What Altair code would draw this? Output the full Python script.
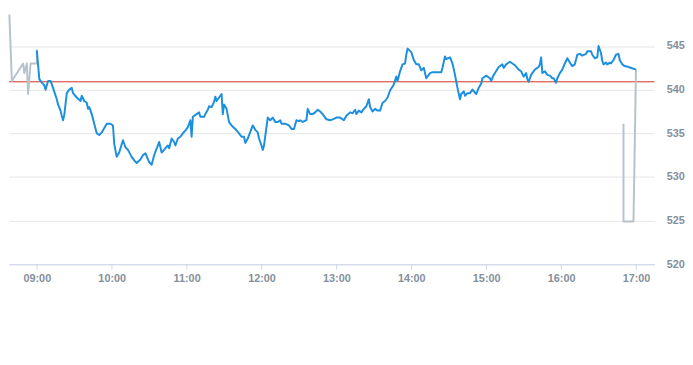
import altair as alt
import pandas as pd

# ---- data ----
pre_times = ["08:38", "08:40", "08:49", "08:50", "08:52", "08:53", "08:55", "09:00", "09:00"]
pre_values = [548.6, 541.0, 543.0, 541.9, 543.0, 539.5, 543.0, 543.0, 544.6]

main_times = [
    "09:00", "09:02", "09:04", "09:06", "09:07", "09:09", "09:11", "09:13", "09:16", "09:17",
    "09:19", "09:20", "09:21", "09:22", "09:24", "09:26", "09:28", "09:29", "09:32", "09:35",
    "09:36", "09:38", "09:40", "09:41", "09:42", "09:44", "09:46", "09:48", "09:50", "09:52",
    "09:56", "09:59", "10:01", "10:02", "10:04", "10:06", "10:09", "10:11", "10:13", "10:16",
    "10:18", "10:20", "10:23", "10:25", "10:27", "10:30", "10:32", "10:34", "10:38", "10:39",
    "10:40", "10:42", "10:43", "10:45", "10:46", "10:48", "10:50", "10:51", "10:53", "10:55",
    "10:57", "10:59", "11:01", "11:03", "11:04", "11:05", "11:08", "11:10", "11:11", "11:14",
    "11:15", "11:17", "11:18", "11:20", "11:22", "11:23", "11:24", "11:26", "11:28", "11:29",
    "11:30", "11:32", "11:34", "11:36", "11:39", "11:42", "11:44", "11:46", "11:47", "11:49",
    "11:53", "11:55", "11:57", "11:58", "12:00", "12:01", "12:02", "12:05", "12:07", "12:09",
    "12:11", "12:13", "12:15", "12:16", "12:19", "12:22", "12:24", "12:26", "12:28", "12:30",
    "12:31", "12:33", "12:36", "12:37", "12:39", "12:41", "12:43", "12:45", "12:47", "12:49",
    "12:52", "12:55", "12:57", "13:00", "13:03", "13:06", "13:08", "13:11", "13:13", "13:15",
    "13:16", "13:18", "13:20", "13:22", "13:24", "13:26", "13:27", "13:29", "13:31", "13:33",
    "13:35", "13:37", "13:39", "13:41", "13:43", "13:46", "13:48", "13:49", "13:51", "13:53",
    "13:55", "13:56", "13:57", "14:00", "14:02", "14:04", "14:06", "14:08", "14:10", "14:11",
    "14:12", "14:15", "14:17", "14:24", "14:25", "14:27", "14:28", "14:31", "14:33", "14:35",
    "14:37", "14:39", "14:40", "14:42", "14:43", "14:45", "14:47", "14:49", "14:52", "14:54",
    "14:56", "14:57", "15:00", "15:03", "15:04", "15:06", "15:07", "15:10", "15:13", "15:14",
    "15:16", "15:19", "15:21", "15:23", "15:26", "15:28", "15:30", "15:32", "15:33", "15:34",
    "15:36", "15:39", "15:42", "15:43", "15:44", "15:45", "15:47", "15:49", "15:51", "15:53",
    "15:54", "15:56", "15:57", "15:59", "16:01", "16:03", "16:05", "16:07", "16:09", "16:11",
    "16:13", "16:15", "16:17", "16:20", "16:21", "16:24", "16:25", "16:27", "16:29", "16:30",
    "16:32", "16:33", "16:34", "16:36", "16:37", "16:39", "16:40", "16:42", "16:44", "16:46",
    "16:47", "16:49", "16:51", "16:54", "17:00",
]
main_values = [
    544.5, 541.2, 540.8, 540.5, 540.0, 541.0, 541.0, 540.2, 538.9, 538.3,
    537.6, 537.0, 536.5, 537.1, 539.6, 540.0, 540.2, 539.6, 539.1, 538.7,
    539.3, 538.7, 538.5, 537.8, 538.0, 537.2, 536.1, 535.0, 534.8, 535.1,
    536.1, 536.1, 535.9, 533.8, 532.3, 532.8, 534.2, 533.4, 533.1, 532.3,
    531.9, 531.6, 532.0, 532.5, 532.7, 531.7, 531.4, 532.5, 534.0, 533.4,
    532.8, 533.1, 533.3, 533.6, 533.3, 534.4, 534.0, 533.6, 534.4, 534.6,
    535.0, 535.3, 535.7, 536.5, 534.6, 536.9, 537.2, 537.4, 536.9, 536.9,
    537.2, 537.7, 538.1, 538.0, 538.6, 539.2, 538.7, 539.1, 539.5, 537.2,
    538.3, 537.8, 536.3, 535.9, 535.5, 535.0, 534.6, 534.6, 533.9, 534.4,
    535.9, 535.4, 535.1, 534.4, 533.6, 533.1, 533.6, 536.8, 536.5, 536.8,
    536.3, 536.3, 536.5, 536.1, 536.1, 535.9, 535.5, 535.5, 536.5, 536.4,
    536.5, 536.3, 536.5, 537.8, 537.2, 537.2, 537.4, 537.7, 537.5, 537.2,
    536.6, 536.5, 536.6, 536.8, 536.8, 536.5, 537.0, 537.4, 537.3, 537.7,
    537.2, 537.6, 537.4, 537.8, 538.1, 538.9, 538.0, 537.5, 537.8, 537.6,
    537.6, 538.5, 538.7, 539.1, 539.9, 540.6, 541.5, 541.0, 542.1, 542.9,
    543.0, 544.0, 544.7, 544.3, 543.4, 542.9, 542.9, 542.2, 542.5, 541.9,
    541.3, 541.9, 542.0, 542.0, 542.5, 543.8, 543.5, 543.7, 543.0, 541.7,
    540.2, 538.9, 539.5, 539.8, 539.3, 539.6, 539.6, 540.0, 539.5, 540.2,
    540.7, 541.3, 541.6, 541.3, 541.0, 541.7, 541.9, 542.6, 542.9, 542.5,
    542.9, 543.2, 543.0, 542.8, 542.3, 542.1, 541.5, 541.9, 541.2, 540.9,
    541.7, 542.3, 542.6, 542.9, 543.7, 541.9, 542.1, 541.7, 541.6, 541.3,
    541.3, 540.8, 541.3, 541.9, 542.3, 543.0, 543.6, 543.1, 542.7, 542.9,
    544.0, 544.1, 543.9, 544.1, 544.4, 544.4, 544.0, 543.6, 543.7, 545.0,
    544.2, 543.3, 542.9, 543.1, 542.9, 543.1, 543.0, 543.4, 544.0, 544.1,
    543.4, 542.9, 542.7, 542.6, 542.3,
]

post_times = ["16:50", "16:50", "16:58", "17:00"]
post_values = [536.1, 524.9, 524.9, 542.3]

reference_price = 540.9
y_ticks = [520, 525, 530, 535, 540, 545]
x_ticks = ["09:00", "10:00", "11:00", "12:00", "13:00", "14:00", "15:00", "16:00", "17:00"]


def to_min(t):
    h, m = t.split(":")
    return int(h) * 60 + int(m)


def frame(times, values):
    return pd.DataFrame({"t": [to_min(t) for t in times], "v": values, "i": list(range(len(times)))})


pre_df = frame(pre_times, pre_values)
main_df = frame(main_times, main_values)
post_df = frame(post_times, post_values)
ref_df = pd.DataFrame({"v": [reference_price]})

x_scale = alt.Scale(domain=[517.7, 1034.8], nice=False, zero=False)
y_scale = alt.Scale(domain=[520, 549.12], nice=False, zero=False)

label_color = "#858f9a"

x_axis = alt.Axis(
    values=[to_min(t) for t in x_ticks],
    labelExpr="(floor(datum.value/60)<10?'0':'')+floor(datum.value/60)+':00'",
    grid=False,
    domainColor="#ccd6eb",
    tickColor="#ccd6eb",
    tickSize=5,
    labelPadding=4,
    labelColor=label_color,
    labelFontSize=11,
    labelFontWeight="bold",
    labelFont="Liberation Sans",
    title=None,
)
y_axis = alt.Axis(
    orient="right",
    values=y_ticks,
    grid=True,
    gridColor="#e6e6e6",
    domain=False,
    ticks=False,
    labelPadding=12,
    labelColor=label_color,
    labelFontSize=11,
    labelFontWeight="bold",
    labelFont="Liberation Sans",
    title=None,
)

base_x = alt.X("t:Q", scale=x_scale, axis=x_axis)
base_y = alt.Y("v:Q", scale=y_scale, axis=y_axis)

ref = alt.Chart(ref_df).mark_rule(color="#d0312d", strokeWidth=1).encode(
    y=alt.Y("v:Q", scale=y_scale, axis=y_axis)
)

pre = alt.Chart(pre_df).mark_line(color="#b6c2cc", strokeWidth=2, strokeJoin="round").encode(
    x=base_x, y=base_y, order=alt.Order("i:Q")
)
post = alt.Chart(post_df).mark_line(color="#b6c2cc", strokeWidth=2, strokeJoin="round").encode(
    x=base_x, y=base_y, order=alt.Order("i:Q")
)
main = alt.Chart(main_df).mark_line(color="#1c8fdf", strokeWidth=2, strokeJoin="round").encode(
    x=base_x, y=base_y, order=alt.Order("i:Q")
)

chart = (
    alt.layer(ref, pre, post, main)
    .properties(width=655, height=258, padding=0)
    .configure_view(stroke=None)
)

chart.save("out.html", embed_options={"renderer": "svg", "actions": False})
